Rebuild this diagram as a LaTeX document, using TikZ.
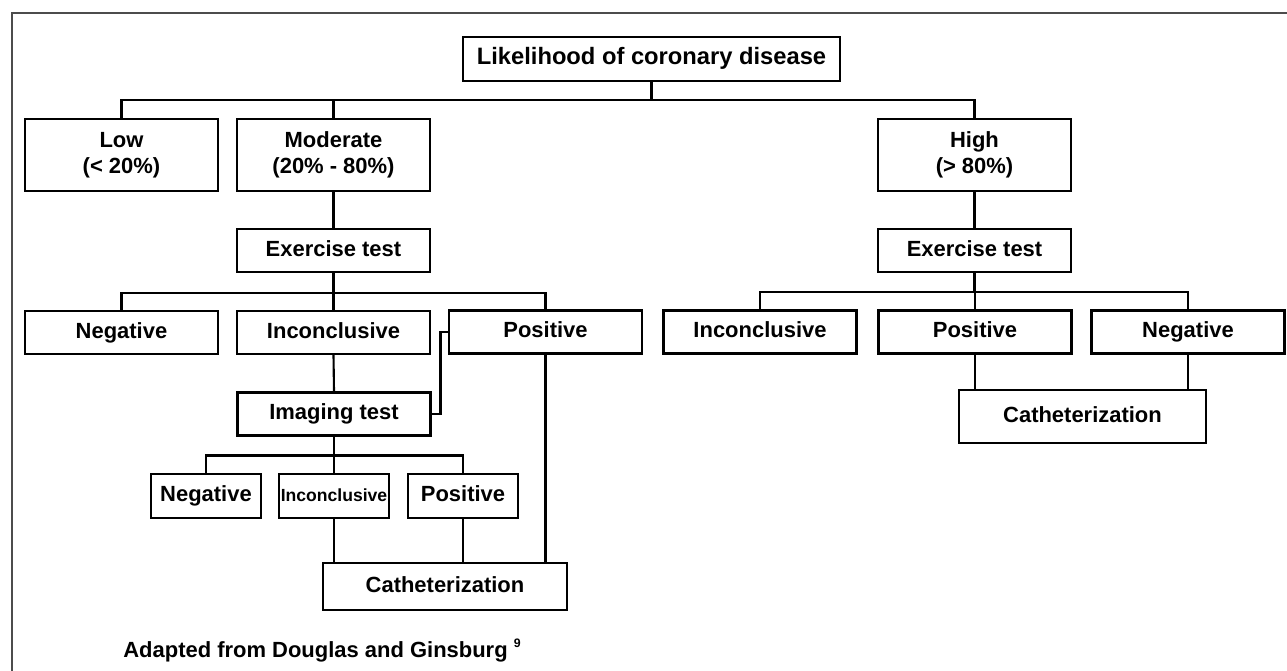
\documentclass[tikz,border=0pt]{standalone}
\usepackage{fontspec}
\setmainfont{Liberation Sans}
\usepackage{tikz}
\usetikzlibrary{positioning}

\begin{document}
\begin{tikzpicture}[
    x=0.02cm, y=-0.02cm,
    plain/.style={rectangle, minimum width=3.86cm, inner sep=1pt, align=center, draw=black, line width=1.2pt, font=\bfseries\fontsize{12.5}{15}\selectfont},
    box/.style={plain, minimum height=0.86cm, text height=0.8em, text depth=0.12em},
    big/.style={plain, minimum height=1.44cm},
    small/.style={box, minimum width=2.2cm, minimum height=0.88cm},
    link/.style={line width=1.2pt},
    frame/.style={line width=1.2pt, black!70}
]
    \useasboundingbox (0,0) rectangle (1287,671);
    \draw[frame] (12,671) -- (12,13) -- (1287,13);

    \node[box, minimum width=7.54cm, minimum height=0.88cm, font=\bfseries\fontsize{13.5}{16}\selectfont] (title) at (651.5,59) {Likelihood of coronary disease};

    \node[big] (low) at (121.5,155) {Low\\(< 20\%)};
    \node[big] (moderate) at (333.5,155) {Moderate\\(20\% - 80\%)};
    \node[big] (high) at (974.5,155) {High\\(> 80\%)};

    \node[box] (exmod) at (333.5,250.5) {Exercise test};
    \node[box] (exhigh) at (974.5,250.5) {Exercise test};

    \node[box] (neg) at (121.5,332.5) {Negative};
    \node[box] (inc) at (333.5,332.5) {Inconclusive};
    \node[box] (pos) at (545.5,332) {Positive};

    \node[box] (inchigh) at (760,332) {Inconclusive};
    \node[box] (poshigh) at (975,332) {Positive};
    \node[box] (neghigh) at (1188,332) {Negative};
    \node[box, minimum width=4.94cm, minimum height=1.06cm] (cathigh) at (1082.5,416.5) {Catheterization};

    \node[box] (imaging) at (334,414) {Imaging test};
    \node[small] (sneg) at (206,496) {Negative};
    \node[small, font=\bfseries\fontsize{10}{12}\selectfont] (sinc) at (334,496) {Inconclusive};
    \node[small] (spos) at (463,496) {Positive};
    \node[box, minimum width=4.88cm, minimum height=0.94cm] (cat) at (445,586.5) {Catheterization};

    \node[anchor=base west, inner sep=0pt, font=\bfseries\fontsize{12.5}{15}\selectfont] (note) at (123,657) {Adapted from Douglas and Ginsburg \raisebox{0.45em}{\fontsize{7}{8}\selectfont 9}};

    \draw[link] (title.south) -- ++(0,18) coordinate (t1);
    \draw[link] (low.north) |- (t1) -| (high.north);
    \draw[link] (moderate.north) -- (moderate.north |- t1);
    \draw[link] (moderate.south) -- (exmod.north);
    \draw[link] (high.south) -- (exhigh.north);

    \draw[link] (exmod.south) -- ++(0,20) coordinate (e1);
    \draw[link] (neg.north) |- (e1) -| (pos.north);
    \draw[link] (inc.north) -- (inc.north |- e1);

    \draw[link] (exhigh.south) -- ++(0,19) coordinate (e2);
    \draw[link] (inchigh.north) |- (e2) -| (neghigh.north);
    \draw[link] (poshigh.north) -- (poshigh.north |- e2);
    \draw[link] (poshigh.south) -- (poshigh.south |- cathigh.north);
    \draw[link] (neghigh.south) -- (neghigh.south |- cathigh.north);

    \draw[link] (inc.south) -- (imaging.north);
    \draw[link] (imaging.east) -- ++(9,0) |- (pos.west);
    \draw[link] (imaging.south) -- ++(0,19) coordinate (i1);
    \draw[link] (sneg.north) |- (i1) -| (spos.north);
    \draw[link] (sinc.north) -- (sinc.north |- i1);

    \draw[link] (sinc.south) -- (sinc.south |- cat.north);
    \draw[link] (spos.south) -- (spos.south |- cat.north);
    \draw[link] (pos.south) -- (pos.south |- cat.north);
\end{tikzpicture}
\end{document}
